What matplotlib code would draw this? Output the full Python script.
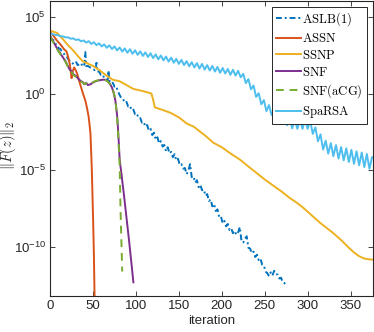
"""
Convergence history of ||F(z)||_2 for several solvers (log scale).
"""

import numpy as np
import matplotlib
matplotlib.use("Agg")
import matplotlib.pyplot as plt
from matplotlib.ticker import NullLocator

# ---- data (values are log10 of ||F(z)||_2) ----
aslb_it = [0, 2, 4, 6, 8, 10, 12, 14, 16, 18, 20, 22, 24, 26, 28, 30, 32, 34, 36, 38,
           40, 41, 42, 44, 46, 48, 50, 52, 53, 54, 55, 57, 59, 61, 63, 65, 67, 68, 69, 71,
           73, 75, 77, 79, 81, 83, 85, 87, 89, 91, 93, 95, 97, 99, 101, 103, 105, 107, 109, 111,
           113, 115, 117, 119, 121, 123, 125, 127, 129, 131, 133, 135, 137, 139, 141, 143, 145, 147, 149, 151,
           153, 155, 157, 159, 161, 163, 165, 167, 169, 171, 173, 175, 177, 179, 181, 183, 185, 187, 189, 191,
           193, 195, 197, 199, 201, 203, 205, 207, 209, 211, 213, 215, 217, 219, 221, 223, 225, 227, 229, 231,
           233, 235, 237, 239, 241, 243, 245, 247, 249, 251, 253, 255, 257, 259, 261, 263, 265, 267, 269, 271,
           273, 274]
aslb_log = [3.70, 3.50, 3.48, 3.25, 3.18, 2.95, 2.90, 2.70, 2.60, 2.40, 2.35, 2.15, 2.10, 1.95, 2.00, 2.10, 1.85, 1.90, 1.98, 1.75,
            1.88, 2.70, 1.78, 1.80, 1.72, 1.66, 1.60, 1.52, 1.58, 2.00, 1.42, 1.44, 1.22, 1.25, 1.02, 0.98, 0.82, 1.50, 0.85, 0.65,
            0.70, 0.45, 0.48, 0.15, -0.10, -0.30, -0.35, -0.60, -0.55, -0.85, -0.80, -1.10, -1.05, -1.35, -1.30, -1.60, -1.60, -1.90, -1.85, -2.15,
            -2.05, -2.40, -2.30, -2.70, -2.55, -3.00, -2.85, -3.25, -3.10, -3.45, -3.35, -3.75, -3.50, -3.90, -3.80, -4.15, -3.95, -4.35, -4.25, -4.65,
            -4.60, -4.90, -4.85, -5.25, -5.05, -4.60, -5.45, -5.40, -5.80, -5.65, -6.10, -5.95, -6.30, -6.25, -6.65, -6.55, -7.00, -6.90, -7.35, -7.20,
            -7.65, -7.55, -8.05, -8.00, -8.45, -8.30, -8.65, -8.50, -8.90, -8.80, -9.10, -8.95, -9.20, -9.05, -8.70, -9.65, -9.70, -9.45, -9.30, -10.05,
            -10.10, -10.40, -10.30, -10.65, -10.50, -10.85, -10.75, -11.15, -11.20, -11.60, -11.70, -11.90, -11.65, -11.85, -11.55, -11.75, -11.80, -12.05, -12.00, -12.30,
            -12.35, -12.45]

assn_it = [0, 4, 8, 12, 16, 19, 21, 23, 25, 26, 28, 30, 32, 35, 38, 41, 43, 45, 47, 48.5, 50, 51, 52]
assn_log = [4.0, 3.75, 3.45, 3.2, 2.9, 2.75, 2.4, 1.9, 1.0, 1.4, 1.7, 1.5, 1.2, 0.6, 0.05, -0.45, -0.95, -1.55, -2.6, -4.8, -8.0, -10.5, -14.0]

ssnp_it = [0, 8, 14, 20, 27, 33, 38, 44, 50, 58, 65, 73, 81, 89, 97, 105, 112, 118, 120, 122,
           130, 140, 150, 159, 167, 174, 182, 190, 200, 210, 221, 232, 241, 250, 260, 270, 279, 287, 294, 300,
           307, 314, 322, 330, 340, 349, 355, 360, 366, 371, 376]
ssnp_log = [4.1, 3.95, 3.6, 3.2, 2.8, 2.4, 2.1, 1.95, 1.8, 1.5, 1.2, 0.9, 0.8, 0.55, 0.3, 0.2, 0.1, 0.0, -0.4, -0.9,
            -1.05, -1.25, -1.55, -1.95, -2.15, -2.45, -2.8, -3.2, -3.5, -3.9, -4.3, -4.8, -5.2, -5.6, -6.0, -6.4, -6.8, -7.1, -7.4, -7.7,
            -8.05, -8.4, -8.75, -9.1, -9.6, -10.1, -10.4, -10.6, -10.75, -10.8, -10.82]

snf_it = [0, 3, 6, 9, 12, 15, 18, 21, 23, 25, 27, 30, 33, 36, 38, 40, 42, 44, 47, 50,
          53, 57, 61, 64, 67, 70, 72, 74, 76, 78, 79, 80, 81, 83, 86, 89, 92, 95, 97]
snf_log = [3.75, 3.45, 3.15, 2.85, 2.6, 2.35, 2.1, 1.75, 1.55, 1.45, 1.25, 1.15, 0.95, 0.8, 0.75, 0.6, 0.7, 0.55, 0.6, 0.72,
           0.8, 0.86, 0.9, 0.9, 0.82, 0.6, 0.4, 0.05, -0.45, -1.4, -2.2, -3.2, -4.3, -5.2, -6.6, -8.1, -9.6, -11.2, -12.3]

snfacg_it = [0, 3, 6, 9, 12, 15, 18, 21, 23, 25, 27, 30, 33, 36, 38, 40, 42, 44, 47, 50,
             53, 57, 61, 64, 67, 70, 72, 74, 76, 78, 79, 80, 81, 82, 84]
snfacg_log = [3.7, 3.4, 3.1, 2.82, 2.55, 2.3, 2.05, 1.72, 1.5, 1.4, 1.2, 1.1, 0.92, 0.78, 0.7, 0.62, 0.68, 0.58, 0.62, 0.74,
              0.82, 0.88, 0.92, 0.88, 0.8, 0.6, 0.45, 0.1, -0.4, -1.5, -2.4, -3.5, -4.6, -7.5, -11.6]

sparsa_it = np.arange(0, 376, 3)
sparsa_log = [3.90, 3.87, 3.82, 3.80, 3.74, 3.72, 3.66, 3.66, 3.57, 3.59, 3.49, 3.53, 3.40, 3.46, 3.32, 3.41,
              3.23, 3.34, 3.15, 3.27, 3.07, 3.20, 2.98, 3.14, 2.90, 3.07, 2.81, 3.00, 2.73, 2.94, 2.66, 2.88,
              2.59, 2.82, 2.52, 2.75, 2.45, 2.68, 2.38, 2.62, 2.31, 2.55, 2.23, 2.48, 2.16, 2.41, 2.08, 2.34,
              2.01, 2.26, 1.93, 2.19, 1.85, 2.11, 1.77, 2.04, 1.70, 1.98, 1.63, 1.93, 1.56, 1.85, 1.50, 1.80,
              1.43, 1.73, 1.35, 1.66, 1.30, 1.60, 1.22, 1.55, 1.17, 1.48, 1.06, 1.28, 0.68, 0.94, 0.28, 0.52,
              -0.22, 0.02, -0.70, -0.43, -1.15, -0.75, -1.40, -0.98, -1.65, -1.18, -1.86, -1.37, -2.07, -1.57, -2.27, -1.70,
              -2.30, -1.70, -2.30, -1.70, -2.30, -1.76, -2.63, -2.20, -3.11, -2.66, -3.65, -3.07, -3.92, -3.23, -4.08, -3.36,
              -4.23, -3.49, -4.35, -3.57, -4.46, -3.67, -4.58, -3.76, -4.68, -3.84, -4.79, -3.94, -4.90, -4.15]

labels = ["ASLB(1)", "ASSN", "SSNP", "SNF", "SNF(aCG)", "SpaRSA"]
colors = ["#0072BD", "#D95319", "#EDB120", "#7E2F8E", "#77AC30", "#4DBEEE"]


def to_val(logs):
    return 10.0 ** np.asarray(logs, dtype=float)


plt.rcParams["font.family"] = ["Liberation Sans", "DejaVu Sans"]
plt.rcParams["mathtext.fontset"] = "cm"

fig = plt.figure(figsize=(3.74, 3.32), dpi=100)
ax = fig.add_axes([0.134, 0.108, 0.863, 0.89])

lw = 1.4
series = [
    (aslb_it, aslb_log, (0, (3, 1.5, 1, 1.5))),
    (assn_it, assn_log, "-"),
    (ssnp_it, ssnp_log, "-"),
    (snf_it, snf_log, "-"),
    (snfacg_it, snfacg_log, (0, (4, 3))),
    (sparsa_it, sparsa_log, "-"),
]
for (xs, ys, ls), lab, col in zip(series, labels, colors):
    ax.plot(xs, to_val(ys), color=col, lw=lw, ls=ls,
            label=r"$\mathrm{" + lab + "}$")

ax.set_yscale("log")
ax.set_xlim(0, 376)
ax.set_ylim(10 ** -13.2, 10 ** 6.05)
ax.set_xticks([0, 50, 100, 150, 200, 250, 300, 350])
ax.set_yticks([1e-10, 1e-5, 1e0, 1e5])
ax.yaxis.set_minor_locator(NullLocator())

axis_col = "#262626"
for s in ax.spines.values():
    s.set_color(axis_col)
    s.set_linewidth(0.8)
ax.tick_params(direction="in", top=True, right=True, length=3.5, width=0.6,
               colors=axis_col, labelsize=9.5, pad=3)

ax.set_xlabel("iteration", fontsize=9.5, color=axis_col, labelpad=2)
ax.set_ylabel(r"$\|F(z)\|_2$", fontsize=10.5, color=axis_col)
ax.yaxis.set_label_coords(-0.098, 0.51)

leg = ax.legend(loc="upper right", fontsize=9.1, frameon=True, fancybox=False,
                handlelength=2.0, handletextpad=0.1, labelspacing=0.3,
                borderpad=0.3, borderaxespad=0.48)
leg.get_frame().set_edgecolor(axis_col)
leg.get_frame().set_linewidth(0.7)
leg.get_frame().set_alpha(1.0)

fig.savefig("out.png", dpi=100)
